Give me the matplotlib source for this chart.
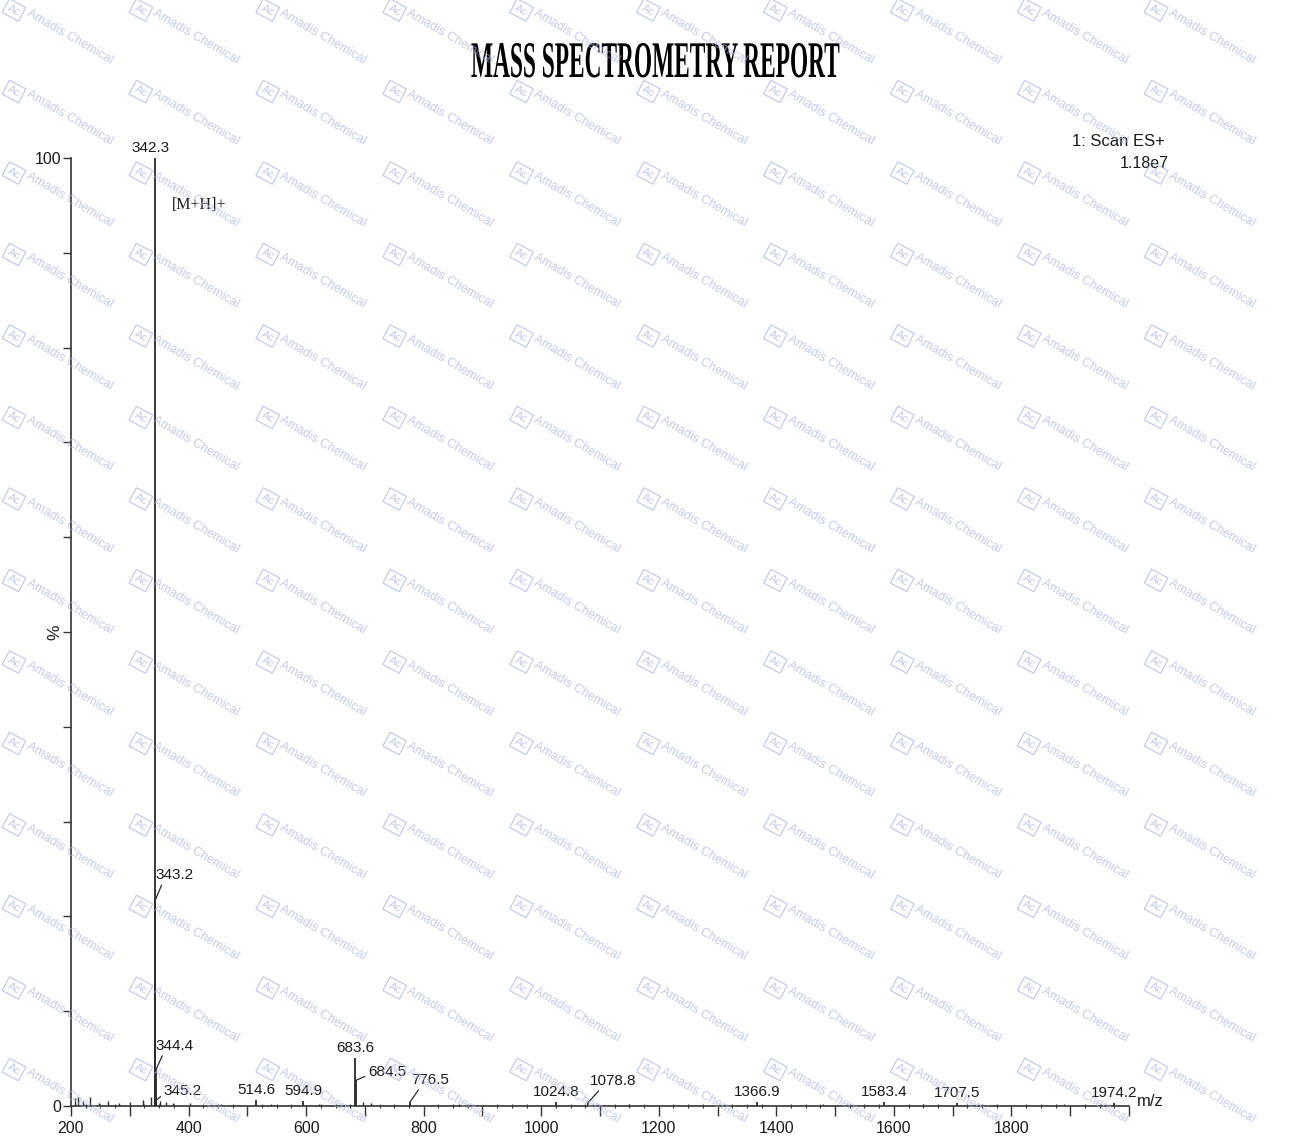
import matplotlib
matplotlib.use('Agg')
import matplotlib.pyplot as plt
from matplotlib import patheffects
from matplotlib.transforms import Affine2D
from matplotlib.textpath import TextPath
from matplotlib.font_manager import FontProperties
from matplotlib.ticker import MultipleLocator, FuncFormatter

plt.rcParams['font.family'] = ['Liberation Sans', 'DejaVu Sans']

W, H = 1291, 1136

# Spectre : pics annotés (m/z, intensité relative %)
peak_mz = [342.3, 343.2, 344.4, 345.2, 514.6, 594.9, 683.6, 684.5, 776.5,
           1024.8, 1078.8, 1366.9, 1583.4, 1707.5, 1974.2]
peak_int = [100.0, 21.7, 3.8, 0.6, 0.6, 0.5, 5.1, 2.7, 0.4,
            0.4, 0.3, 0.4, 0.4, 0.3, 0.3]
peak_labels = ['342.3', '343.2', '344.4', '345.2', '514.6', '594.9', '683.6', '684.5',
               '776.5', '1024.8', '1078.8', '1366.9', '1583.4', '1707.5', '1974.2']

# bruit de fond (petits pics non annotés)
noise_mz = [206, 212, 220, 232, 247, 263, 281, 300, 322, 336, 352, 361, 373,
            402, 455, 540, 622, 697, 711, 860, 1150, 1480, 1650, 1890]
noise_int = [0.8, 1.0, 0.5, 0.9, 0.3, 0.5, 0.3, 0.4, 0.6, 0.9, 0.5, 0.4, 0.3,
             0.3, 0.2, 0.2, 0.2, 0.4, 0.3, 0.2, 0.2, 0.2, 0.2, 0.2]

x_ticks = [200, 400, 600, 800, 1000, 1200, 1400, 1600, 1800]

TXT = '#1a1a1a'
LINE = '#2a2a2a'
WM = '#aab6de'

# placement des étiquettes: (dx px, dy px, ha, relpos du trait ou None)
label_pos = {
    '342.3': (-4, 3, 'center', None),
    '343.2': (0, 25, 'left', (0.2, 0.0)),
    '344.4': (0, 24, 'left', (0.2, 0.0)),
    '345.2': (7, 9, 'left', (0.0, 0.3)),
    '684.5': (12, 8, 'left', (0.0, 0.3)),
    '776.5': (1, 22, 'left', (0.25, 0.0)),
    '1078.8': (2, 22, 'left', (0.25, 0.0)),
}


class Squeeze(patheffects.AbstractPathEffect):
    """Compresse horizontalement le texte (police condensée)."""
    def __init__(self, sx):
        super().__init__()
        self.sx = sx

    def draw_path(self, renderer, gc, tpath, affine, rgbFace=None):
        renderer.draw_path(gc, tpath, Affine2D().scale(self.sx, 1) + affine, rgbFace)


def px(x, y):
    return x / W, 1 - y / H


fig = plt.figure(figsize=(W / 100, H / 100), dpi=100)
ax = fig.add_axes([71 / W, (H - 1106) / H, (1129 - 71) / W, (1106 - 158) / H])

ax.vlines(noise_mz, 0, noise_int, color=LINE, lw=1.0)
ax.vlines(peak_mz, 0, peak_int, color=LINE, lw=1.3)

for mz, inten, lab in zip(peak_mz, peak_int, peak_labels):
    if lab in label_pos:
        dx, dy, ha, rel = label_pos[lab]
    else:
        dx, dy, ha, rel = 0, 3, 'center', None
    if rel is None:
        ax.annotate(lab, xy=(mz, inten), xytext=(dx, dy), textcoords='offset pixels',
                    ha=ha, va='bottom', fontsize=11, color=TXT, annotation_clip=False)
    else:
        ax.annotate(lab, xy=(mz, inten), xytext=(dx, dy), textcoords='offset pixels',
                    ha=ha, va='center', fontsize=11, color=TXT, annotation_clip=False,
                    arrowprops=dict(arrowstyle='-', color=LINE, lw=0.9,
                                    shrinkA=0, shrinkB=0, relpos=rel))

ax.set_xlim(200, 2000)
ax.set_ylim(0, 100)
for s in ['top', 'right']:
    ax.spines[s].set_visible(False)
for s in ['left', 'bottom']:
    ax.spines[s].set_color('#333333')
    ax.spines[s].set_linewidth(1.2)

ax.xaxis.set_major_locator(MultipleLocator(100))
ax.xaxis.set_minor_locator(MultipleLocator(25))
ax.xaxis.set_major_formatter(FuncFormatter(lambda v, p: f'{v:.0f}' if round(v) in x_ticks else ''))
ax.tick_params(axis='x', which='major', length=7, width=1, color='#333333',
               direction='out', pad=4, labelsize=11.5, labelcolor=TXT)
ax.tick_params(axis='x', which='minor', length=3, width=0.8, color='#333333', direction='inout')

ax.set_yticks(range(0, 101, 10))
ax.set_yticklabels(['0'] + [''] * 9 + ['100'])
ax.tick_params(axis='y', length=6, width=1, color='#333333', direction='out',
               pad=1, labelsize=11.5, labelcolor=TXT)
ax.set_ylabel('%', fontsize=12.5, color=TXT)
ax.yaxis.set_label_coords(-0.0085, 0.5)

ax.annotate('m/z', xy=(1, 0), xycoords='axes fraction', xytext=(8, 5),
            textcoords='offset pixels', ha='left', va='center', fontsize=12, color=TXT)

# en-tête / annotations
fig.text(*px(1165, 142), '1: Scan ES+', ha='right', va='center', fontsize=12, color=TXT)
fig.text(*px(1169, 164), '1.18e7', ha='right', va='center', fontsize=11.5, color=TXT)
fig.text(*px(172, 205), '[M+H]+', ha='left', va='center', fontsize=11.5, color=TXT,
         family='Liberation Serif')

# titre condensé
title = 'MASS SPECTROMETRY REPORT'
fp = FontProperties(family='Liberation Serif', weight='bold', size=37)
natural_w = TextPath((0, 0), title, size=37 * 100 / 72, prop=fp).get_extents().width
fig.text(*px(471, 77), title, ha='left', va='baseline', fontproperties=fp, color='#000000',
         path_effects=[Squeeze(368 / natural_w)])

# filigrane
for j in range(14):
    for i in range(10):
        bx = 14 + i * 126.9
        by = 10 + j * 81.5
        fig.text(*px(bx, by), 'Ac', ha='center', va='center', rotation=-28, fontsize=8,
                 color=WM, alpha=0.7, zorder=10,
                 bbox=dict(boxstyle='square,pad=0.25', fc='none', ec=WM, lw=0.9, alpha=0.7))
        fig.text(*px(bx + 13, by + 2), 'Amadis Chemical', ha='left', va='center',
                 rotation=-30, rotation_mode='anchor', fontsize=9, color=WM, alpha=0.7,
                 zorder=10)

fig.savefig('out.png', dpi=100)
